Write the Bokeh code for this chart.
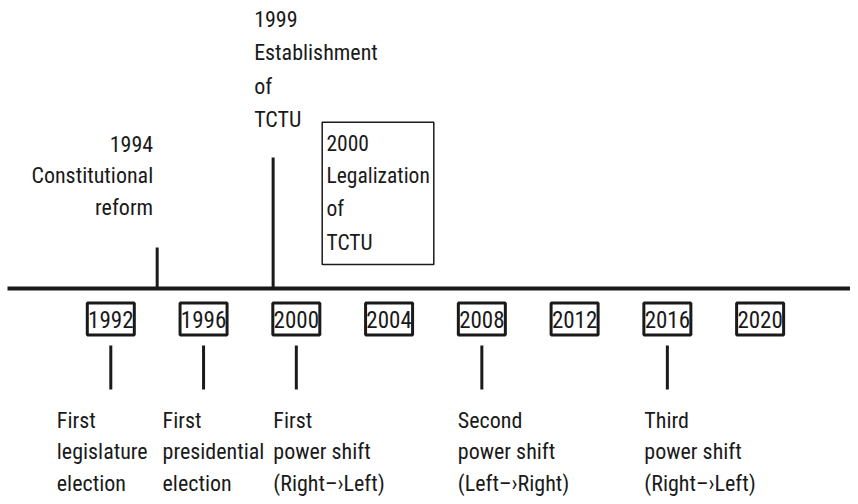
from bokeh.plotting import figure
from bokeh.models import Range1d
from bokeh.core.properties import value
from bokeh.embed import file_html
from bokeh.resources import INLINE

# ---- data ----
tick_years = [1992, 1996, 2000, 2004, 2008, 2012, 2016, 2020]
tick_labels = ["1992", "1996", "2000", "2004", "2008", "2012", "2016", "2020"]

below_years = [1992, 1996, 2000, 2008, 2016]
below_labels = [
    "First\nlegislature\nelection",
    "First\npresidential\nelection",
    "First\npower shift\n(Right–›Left)",
    "Second\npower shift\n(Left–›Right)",
    "Third\npower shift\n(Right–›Left)",
]

above_years = [1994, 1999]
above_labels = ["1994\nConstitutional\nreform", "1999\nEstablishment\nof\nTCTU"]

boxed_label = "2000\nLegalization\nof\nTCTU"

# ---- layout (pixels, canvas coordinates) ----
FONT = "Roboto Condensed"
INK = "#1a1a1a"
W, H = 850, 496
X0_PX, PX_PER_YEAR = 110.3, 23.19
TXT_SHIFT = -8.5  # compensates the renderer's baseline placement


def yr_at(px):
    return 1992 + (px - X0_PX) / PX_PER_YEAR


LINE_Y = 288

p = figure(width=W, height=H, output_backend="svg", toolbar_location=None,
           x_range=Range1d(yr_at(0), yr_at(W)), y_range=Range1d(H, 0),
           min_border=0)
p.axis.visible = False
p.grid.visible = False
p.outline_line_color = None
p.background_fill_color = "white"

# main timeline
p.segment(x0=[yr_at(7)], x1=[yr_at(W)], y0=[LINE_Y], y1=[LINE_Y],
          line_color=INK, line_width=4)

# year boxes
p.rect(x=tick_years, y=[318.5] * len(tick_years), width=47, height=32,
       width_units="screen", height_units="screen",
       fill_color="white", line_color=INK, line_width=3)
p.text(x=tick_years, y=[327.5 + TXT_SHIFT] * len(tick_years), text=tick_labels,
       text_font=value(FONT), text_font_size="23px", text_align="center",
       text_baseline="alphabetic", text_color=INK)


def multiline(x, y0, spacing, label):
    lines = label.split("\n")
    return ([x] * len(lines),
            [y0 + TXT_SHIFT + i * spacing for i in range(len(lines))], lines)


# ticks below and labels
p.segment(x0=below_years, x1=below_years, y0=[345] * len(below_years),
          y1=[389] * len(below_years), line_color=INK, line_width=3)
below_offsets = [-54, -41, -23, -24, -23]
bx, by, bt, bo = [], [], [], []
for yr, lab, off in zip(below_years, below_labels, below_offsets):
    xs, ys, ts = multiline(yr, 428, 31.5, lab)
    bx += xs; by += ys; bt += ts; bo += [off] * len(ts)
p.text(x=bx, y=by, text=bt, x_offset=bo, text_font=value(FONT),
       text_font_size="22px", text_align="left", text_baseline="alphabetic",
       text_color=INK)

# ticks above
above_tops = [247, 157]
p.segment(x0=above_years, x1=above_years, y0=above_tops,
          y1=[LINE_Y] * len(above_years), line_color=INK, line_width=3)

# 1994 label (right-aligned at its tick)
xs, ys, ts = multiline(above_years[0], 151.7, 31.8, above_labels[0])
p.text(x=xs, y=ys, text=ts, x_offset=-4, text_font=value(FONT), text_font_size="22px",
       text_align="right", text_baseline="alphabetic", text_color=INK)

# 1999 label (left-aligned, a little left of its tick)
xs, ys, ts = multiline(above_years[1], 27, 33.6, above_labels[1])
p.text(x=xs, y=ys, text=ts, x_offset=-19, text_font=value(FONT),
       text_font_size="22px", text_align="left", text_baseline="alphabetic",
       text_color=INK)

# boxed 2000 label
box_l, box_r, box_t, box_b = 321.7, 433.3, 121.7, 264
p.rect(x=[yr_at((box_l + box_r) / 2)], y=[(box_t + box_b) / 2],
       width=box_r - box_l, height=box_b - box_t,
       width_units="screen", height_units="screen",
       fill_color="white", line_color=INK, line_width=1.5)
xs, ys, ts = multiline(yr_at(326), 150.5, 33.2, boxed_label)
p.text(x=xs, y=ys, text=ts, text_font=value(FONT), text_font_size="21.5px",
       text_align="left", text_baseline="alphabetic", text_color=INK)

open("out.html", "w").write(file_html(p, INLINE))
